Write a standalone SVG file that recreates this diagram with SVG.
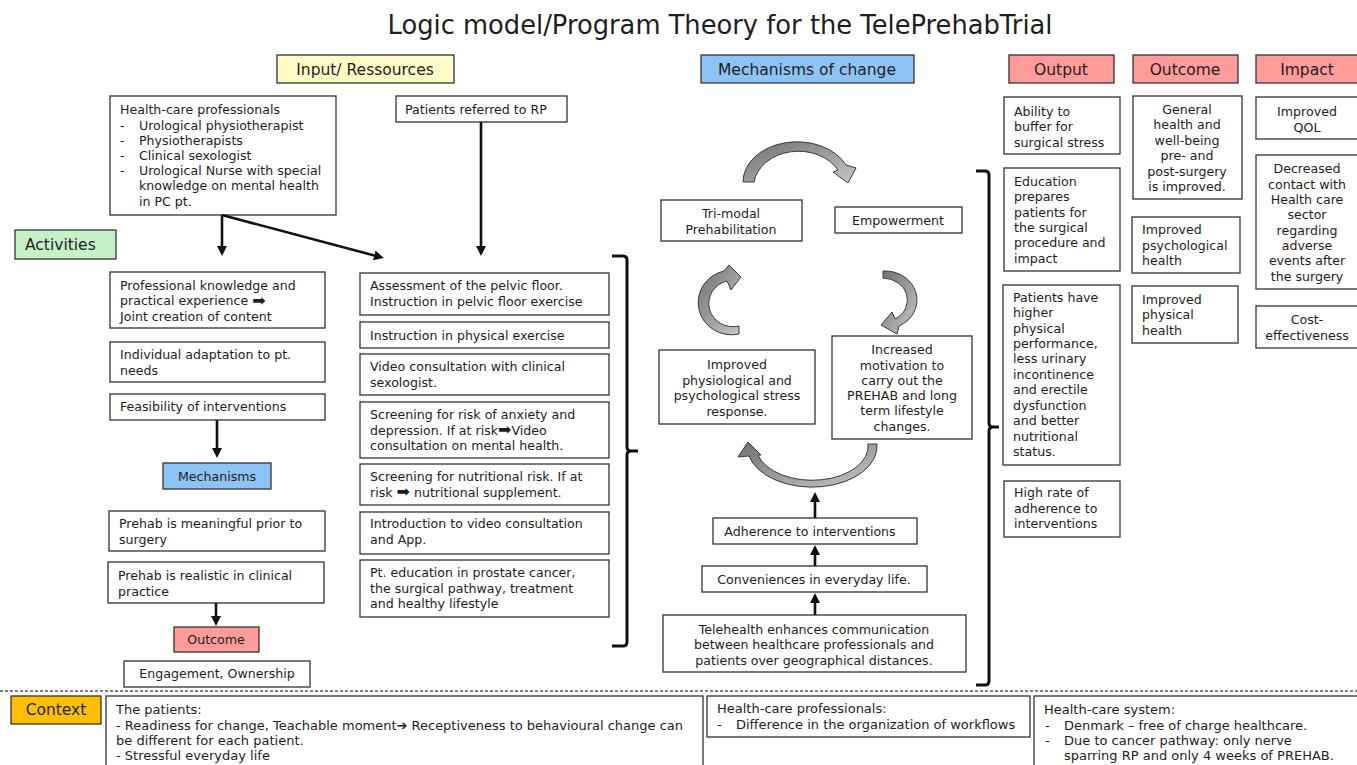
<svg xmlns="http://www.w3.org/2000/svg" width="1357" height="765" viewBox="0 0 1357 765">
<defs>
<style>
.b{fill:#fff;stroke:#333;stroke-width:1.3}
.t{font-family:"DejaVu Sans",Verdana,sans-serif;font-size:12.6px;fill:#1e1e1e}
.c{text-anchor:middle}
.h{font-family:"DejaVu Sans",Verdana,sans-serif;font-size:15.5px;fill:#1e1e1e}
.x{font-family:"DejaVu Sans",Tahoma,sans-serif;font-size:13px;fill:#1e1e1e}
.ar{font-size:16px}
.cn{stroke:#111;stroke-width:2.6;fill:none}
.br{stroke:#111;stroke-width:3;fill:none}
.ca{fill:url(#gr);stroke:#3a3a3a;stroke-width:1}
</style>
<marker id="ah" markerWidth="10" markerHeight="10" refX="6" refY="5" orient="auto" markerUnits="userSpaceOnUse"><path d="M0,0 L10,5 L0,10 z" fill="#111"/></marker>
<linearGradient id="gr" x1="0" y1="0" x2="1" y2="1"><stop offset="0" stop-color="#6f6f6f"/><stop offset="1" stop-color="#c8c8c8"/></linearGradient>
</defs>
<rect width="1357" height="765" fill="#fff"/>
<text x="720" y="34" class="c" font-family="DejaVu Sans,Verdana,sans-serif" font-size="26" fill="#1e1e1e" textLength="665" lengthAdjust="spacingAndGlyphs">Logic model/Program Theory for the TelePrehabTrial</text>

<g id="hdr-input"><rect x="277" y="55" width="177" height="28" fill="#FFFAC6" stroke="#333" stroke-width="1.3"/><text x="365" y="74.5" class="h c">Input/ Ressources</text></g>
<g id="hdr-mech"><rect x="701" y="55" width="213" height="28" fill="#8EC4F5" stroke="#333" stroke-width="1.3"/><text x="807" y="74.5" class="h c">Mechanisms of change</text></g>
<g id="hdr-output"><rect x="1009" y="55" width="105" height="28" fill="#FF9B98" stroke="#333" stroke-width="1.3"/><text x="1061" y="74.5" class="h c">Output</text></g>
<g id="hdr-outcome"><rect x="1133" y="55" width="105" height="28" fill="#FF9B98" stroke="#333" stroke-width="1.3"/><text x="1185" y="74.5" class="h c">Outcome</text></g>
<g id="hdr-impact"><rect x="1256" y="55" width="104" height="28" fill="#FF9B98" stroke="#333" stroke-width="1.3"/><text x="1307" y="74.5" class="h c">Impact</text></g>
<g id="hdr-activities"><rect x="15" y="230" width="101" height="29" fill="#C6F0C8" stroke="#333" stroke-width="1.3"/><text x="25" y="250" class="h">Activities</text></g>

<g id="in-hcp"><rect x="110" y="96" width="226" height="119" class="b"/>
<text class="t"><tspan x="120" y="113.5">Health-care professionals</tspan><tspan x="120" y="129.5">-</tspan><tspan x="139" y="129.5">Urological physiotherapist</tspan><tspan x="120" y="144.5">-</tspan><tspan x="139" y="144.5">Physiotherapists</tspan><tspan x="120" y="159.5">-</tspan><tspan x="139" y="159.5">Clinical sexologist</tspan><tspan x="120" y="174.5">-</tspan><tspan x="139" y="174.5">Urological Nurse with special</tspan><tspan x="139" y="190">knowledge on mental health</tspan><tspan x="139" y="205.5">in PC pt.</tspan></text></g>
<g id="in-patients"><rect x="396" y="96" width="171" height="26" class="b"/><text x="405" y="113.5" class="t">Patients referred to RP</text></g>

<g id="a-prof"><rect x="110" y="272" width="215" height="56" class="b"/><text class="t"><tspan x="120" y="289.5">Professional knowledge and</tspan><tspan x="120" y="305">practical experience </tspan><tspan class="ar" dy="0.5">➡</tspan><tspan x="120" y="320.5">Joint creation of content</tspan></text></g>
<g id="a-indiv"><rect x="110" y="342" width="215" height="40" class="b"/><text class="t"><tspan x="120" y="358.5">Individual adaptation to pt.</tspan><tspan x="120" y="374.5">needs</tspan></text></g>
<g id="a-feas"><rect x="110" y="394" width="215" height="26" class="b"/><text x="120" y="410.5" class="t">Feasibility of interventions</text></g>
<g id="a-mech"><rect x="163" y="463" width="108" height="26" fill="#8EC4F5" stroke="#333" stroke-width="1.3"/><text x="217" y="480.5" class="t c" font-size="13">Mechanisms</text></g>
<g id="a-mean"><rect x="109" y="511" width="216" height="40" class="b"/><text class="t"><tspan x="119" y="527.5">Prehab is meaningful prior to</tspan><tspan x="119" y="543.5">surgery</tspan></text></g>
<g id="a-real"><rect x="108" y="562" width="216" height="41" class="b"/><text class="t"><tspan x="118" y="579.5">Prehab is realistic in clinical</tspan><tspan x="118" y="595.5">practice</tspan></text></g>
<g id="a-outcome"><rect x="174" y="627" width="85" height="25" fill="#FF9B98" stroke="#333" stroke-width="1.3"/><text x="216" y="644" class="t c" font-size="13">Outcome</text></g>
<g id="a-engage"><rect x="124" y="661" width="186" height="26" class="b"/><text x="217" y="678" class="t c" font-size="13.5">Engagement, Ownership</text></g>

<g id="m-assess"><rect x="360" y="273" width="249" height="42" class="b"/><text class="t"><tspan x="370" y="289.5">Assessment of the pelvic floor.</tspan><tspan x="370" y="305.5">Instruction in pelvic floor exercise</tspan></text></g>
<g id="m-phys"><rect x="360" y="322" width="249" height="26" class="b"/><text x="370" y="339.5" class="t">Instruction in physical exercise</text></g>
<g id="m-video"><rect x="360" y="354" width="249" height="41" class="b"/><text class="t"><tspan x="370" y="370.5">Video consultation with clinical</tspan><tspan x="370" y="386.5">sexologist.</tspan></text></g>
<g id="m-anx"><rect x="360" y="402" width="249" height="56" class="b"/><text class="t"><tspan x="370" y="418.5">Screening for risk of anxiety and</tspan><tspan x="370" y="434.5">depression. If at risk</tspan><tspan class="ar">➡</tspan><tspan>Video</tspan><tspan x="370" y="449.5">consultation on mental health.</tspan></text></g>
<g id="m-nutr"><rect x="360" y="464" width="249" height="41" class="b"/><text class="t"><tspan x="370" y="480.5">Screening for nutritional risk. If at</tspan><tspan x="370" y="496.5">risk </tspan><tspan class="ar">➡</tspan><tspan> nutritional supplement.</tspan></text></g>
<g id="m-intro"><rect x="360" y="512" width="249" height="42" class="b"/><text class="t"><tspan x="370" y="527.5">Introduction to video consultation</tspan><tspan x="370" y="543.5">and App.</tspan></text></g>
<g id="m-edu"><rect x="360" y="560" width="249" height="57" class="b"/><text class="t"><tspan x="370" y="576.5">Pt. education in prostate cancer,</tspan><tspan x="370" y="592.5">the surgical pathway, treatment</tspan><tspan x="370" y="607.5">and healthy lifestyle</tspan></text></g>

<g id="k-trimodal"><rect x="661" y="200" width="141" height="41" class="b"/><text class="t c"><tspan x="731" y="217.5">Tri-modal</tspan><tspan x="731" y="233.5">Prehabilitation</tspan></text></g>
<g id="k-empower"><rect x="835" y="207" width="127" height="26" class="b"/><text x="898" y="225" class="t c">Empowerment</text></g>
<g id="k-improved"><rect x="659" y="350" width="156" height="74" class="b"/><text class="t c"><tspan x="737" y="368.5">Improved</tspan><tspan x="737" y="384.5">physiological and</tspan><tspan x="737" y="399.5">psychological stress</tspan><tspan x="737" y="415.5">response.</tspan></text></g>
<g id="k-motiv"><rect x="832" y="336" width="140" height="103" class="b"/><text class="t c"><tspan x="902" y="353.5">Increased</tspan><tspan x="902" y="369.5">motivation to</tspan><tspan x="902" y="384.5">carry out the</tspan><tspan x="902" y="399.5">PREHAB and long</tspan><tspan x="902" y="414.5">term lifestyle</tspan><tspan x="902" y="430.5">changes.</tspan></text></g>
<g id="k-adher"><rect x="713" y="518" width="204" height="26" class="b"/><text x="810" y="535.5" class="t c" font-size="13">Adherence to interventions</text></g>
<g id="k-conv"><rect x="702" y="566" width="225" height="26" class="b"/><text x="814" y="583.5" class="t c" font-size="13">Conveniences in everyday life.</text></g>
<g id="k-tele"><rect x="663" y="615" width="303" height="57" class="b"/><text class="t c" font-size="13"><tspan x="814" y="633.5">Telehealth enhances communication</tspan><tspan x="814" y="648.5">between healthcare professionals and</tspan><tspan x="814" y="664.5">patients over geographical distances.</tspan></text></g>

<g id="o-buffer"><rect x="1004" y="97" width="116" height="57" class="b"/><text class="t"><tspan x="1014" y="115.5">Ability to</tspan><tspan x="1014" y="130.5">buffer for</tspan><tspan x="1014" y="146.5">surgical stress</tspan></text></g>
<g id="o-edu"><rect x="1004" y="168" width="116" height="103" class="b"/><text class="t"><tspan x="1014" y="185.5">Education</tspan><tspan x="1014" y="200.5">prepares</tspan><tspan x="1014" y="216.5">patients for</tspan><tspan x="1014" y="231.5">the surgical</tspan><tspan x="1014" y="246.5">procedure and</tspan><tspan x="1014" y="262.5">impact</tspan></text></g>
<g id="o-perf"><rect x="1003" y="285" width="117" height="180" class="b"/><text class="t"><tspan x="1013" y="301.5">Patients have</tspan><tspan x="1013" y="316.5">higher</tspan><tspan x="1013" y="332.5">physical</tspan><tspan x="1013" y="347.5">performance,</tspan><tspan x="1013" y="362.5">less urinary</tspan><tspan x="1013" y="378.5">incontinence</tspan><tspan x="1013" y="393.5">and erectile</tspan><tspan x="1013" y="409.5">dysfunction</tspan><tspan x="1013" y="424.5">and better</tspan><tspan x="1013" y="440.5">nutritional</tspan><tspan x="1013" y="455.5">status.</tspan></text></g>
<g id="o-adher"><rect x="1004" y="481" width="116" height="56" class="b"/><text class="t"><tspan x="1014" y="496.5">High rate of</tspan><tspan x="1014" y="512.5">adherence to</tspan><tspan x="1014" y="527.5">interventions</tspan></text></g>

<g id="oc-general"><rect x="1133" y="96" width="109" height="103" class="b"/><text class="t c"><tspan x="1187" y="113.5">General</tspan><tspan x="1187" y="128.5">health and</tspan><tspan x="1187" y="144.5">well-being</tspan><tspan x="1187" y="159.5">pre- and</tspan><tspan x="1187" y="175.5">post-surgery</tspan><tspan x="1187" y="190.5">is improved.</tspan></text></g>
<g id="oc-psych"><rect x="1132" y="217" width="108" height="56" class="b"/><text class="t"><tspan x="1142" y="233.5">Improved</tspan><tspan x="1142" y="249.5">psychological</tspan><tspan x="1142" y="264.5">health</tspan></text></g>
<g id="oc-phys"><rect x="1132" y="286" width="106" height="57" class="b"/><text class="t"><tspan x="1142" y="303.5">Improved</tspan><tspan x="1142" y="318.5">physical</tspan><tspan x="1142" y="334.5">health</tspan></text></g>

<g id="i-qol"><rect x="1256" y="97" width="104" height="42" class="b"/><text class="t c"><tspan x="1307" y="115.5">Improved</tspan><tspan x="1307" y="131.5">QOL</tspan></text></g>
<g id="i-contact"><rect x="1256" y="155" width="104" height="134" class="b"/><text class="t c"><tspan x="1307" y="172.5">Decreased</tspan><tspan x="1307" y="188.5">contact with</tspan><tspan x="1307" y="203.5">Health care</tspan><tspan x="1307" y="218.5">sector</tspan><tspan x="1307" y="234.5">regarding</tspan><tspan x="1307" y="249.5">adverse</tspan><tspan x="1307" y="264.5">events after</tspan><tspan x="1307" y="280.5">the surgery</tspan></text></g>
<g id="i-cost"><rect x="1256" y="306" width="104" height="42" class="b"/><text class="t c"><tspan x="1307" y="323.5">Cost-</tspan><tspan x="1307" y="339.5">effectiveness</tspan></text></g>

<g id="connectors">
<line x1="222" y1="215" x2="222" y2="252" class="cn" marker-end="url(#ah)"/>
<line x1="222" y1="215" x2="380" y2="257" class="cn" marker-end="url(#ah)"/>
<line x1="481" y1="122" x2="481" y2="252" class="cn" marker-end="url(#ah)"/>
<line x1="217" y1="420" x2="217" y2="454" class="cn" marker-end="url(#ah)"/>
<line x1="216" y1="603" x2="216" y2="622" class="cn" marker-end="url(#ah)"/>
<line x1="815" y1="615" x2="815" y2="597" class="cn" marker-end="url(#ah)"/>
<line x1="815" y1="566" x2="815" y2="549" class="cn" marker-end="url(#ah)"/>
<line x1="815" y1="518" x2="815" y2="496" class="cn" marker-end="url(#ah)"/>
<path class="br" d="M612,256 L623,256 Q627,256 627,260 L627,447 Q627,451 631,451 L638,451 M631,451 Q627,451 627,455 L627,642 Q627,646 623,646 L612,646"/>
<path class="br" d="M976,171 L985,171 Q989,171 989,175 L989,423 Q989,427 993,427 L999,427 M993,427 Q989,427 989,431 L989,681 Q989,685 985,685 L976,685"/>
<path class="ca" d="M743,182 A54,40 0 0 1 846,165 L856,168 L848,183 L833,172 L838,170 A45,36 0 0 0 754,182 Z"/>
<path class="ca" d="M739,334 A33,32 0 0 1 724,271 L729,265 L741,277 L731,290 L727,281 A24,23 0 0 0 739,326 Z"/>
<path class="ca" d="M883,271 A32,29 0 0 1 899,326 L897,334 L881,325 L892,312 L895,319 A25,22 0 0 0 883,278 Z"/>
<path class="ca" d="M877,444 A65,41 0 0 1 749,456 L738,457 L748,442 L761,455 L758,455 A56,34 0 0 0 868,444 Z"/>
<line x1="0" y1="691" x2="1357" y2="691" stroke="#555" stroke-width="1.5" stroke-dasharray="3,2"/>
</g>

<g id="ctx-label"><rect x="11" y="696" width="90" height="28" fill="#FFC000" stroke="#333" stroke-width="1.3"/><text x="56" y="715" class="h c">Context</text></g>
<g id="ctx-patients"><rect x="106" y="696" width="597" height="75" class="b"/><text class="x"><tspan x="116" y="713.5">The patients:</tspan><tspan x="116" y="729.5" textLength="567" lengthAdjust="spacingAndGlyphs">- Readiness for change, Teachable moment➔ Receptiveness to behavioural change can</tspan><tspan x="116" y="744.5">be different for each patient.</tspan><tspan x="116" y="759.5">- Stressful everyday life</tspan></text></g>
<g id="ctx-hcp"><rect x="707" y="696" width="323" height="41" class="b"/><text class="x"><tspan x="717" y="712.5">Health-care professionals:</tspan><tspan x="717" y="728.5">-</tspan><tspan x="736" y="728.5">Difference in the organization of workflows</tspan></text></g>
<g id="ctx-hcs"><rect x="1034" y="696" width="330" height="75" class="b"/><text class="x"><tspan x="1044" y="713.5">Health-care system:</tspan><tspan x="1045" y="729.5">-</tspan><tspan x="1064" y="729.5">Denmark – free of charge healthcare.</tspan><tspan x="1045" y="744.5">-</tspan><tspan x="1064" y="744.5">Due to cancer pathway: only nerve</tspan><tspan x="1064" y="760">sparring RP and only 4 weeks of PREHAB.</tspan></text></g>
</svg>
